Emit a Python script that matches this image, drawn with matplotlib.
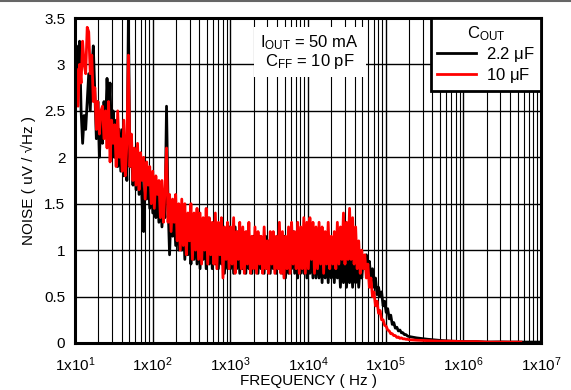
import numpy as np
import matplotlib
matplotlib.use("Agg")
import matplotlib.pyplot as plt
from matplotlib.lines import Line2D

plt.rcParams['font.family'] = ['Liberation Sans', 'DejaVu Sans']
plt.rcParams['mathtext.fontset'] = 'custom'
plt.rcParams['mathtext.rm'] = 'Liberation Sans'
plt.rcParams['mathtext.it'] = 'Liberation Sans'
plt.rcParams['mathtext.default'] = 'regular'

# --- data ---
# dense part of the sweep, 10 Hz .. 200 kHz, log spaced (220 pts)
freq_dense = np.geomspace(10, 2e5, 220)

noise_10uF = [
    2.6, 2.95, 2.55, 3.0, 2.8, 3.25, 3.0, 2.9, 3.4, 3.35,
    2.9, 3.1, 2.6, 2.75, 2.3, 2.6, 2.25, 2.5, 2.55, 2.2,
    2.5, 2.1, 2.6, 1.95, 2.4, 2.15, 2.35, 1.9, 2.5, 2.0,
    2.2, 1.85, 2.4, 1.8, 2.15, 3.1, 1.9, 2.25, 1.75, 2.1,
    1.7, 2.15, 1.65, 2.05, 1.75, 2.0, 1.55, 1.95, 1.7, 1.9,
    1.5, 1.85, 1.45, 1.8, 1.6, 1.75, 1.35, 1.75, 1.3, 1.65,
    2.1, 1.3, 1.6, 1.2, 1.55, 1.3, 1.6, 1.1, 1.5, 1.0,
    1.55, 1.05, 1.5, 0.95, 1.4, 1.1, 1.5, 0.9, 1.4, 1.0,
    1.45, 0.9, 1.4, 0.85, 1.35, 1.0, 1.45, 0.85, 1.35, 0.95,
    1.3, 0.85, 1.4, 0.8, 1.3, 0.95, 1.35, 0.7, 1.25, 0.9,
    1.3, 0.8, 1.25, 0.85, 1.35, 0.75, 1.2, 0.9, 1.3, 0.8,
    1.25, 0.75, 1.2, 0.85, 1.3, 0.75, 1.15, 0.8, 1.25, 0.75,
    1.2, 0.85, 1.15, 0.75, 1.25, 0.8, 1.1, 0.75, 1.2, 0.85,
    1.2, 0.75, 1.15, 0.8, 1.3, 0.75, 1.2, 0.7, 1.15, 0.8,
    1.25, 0.75, 1.3, 0.85, 1.2, 0.8, 1.3, 0.75, 1.25, 0.8,
    1.35, 0.75, 1.3, 0.8, 1.35, 0.9, 1.3, 0.75, 1.25, 0.8,
    1.3, 0.85, 1.25, 0.75, 1.2, 0.85, 1.3, 0.8, 1.15, 0.85,
    1.2, 0.8, 1.3, 0.85, 1.25, 0.9, 1.4, 0.85, 1.3, 0.9,
    1.45, 0.9, 1.35, 0.85, 1.25, 0.8, 1.1, 0.75, 1.0, 0.8,
    0.95, 0.7, 0.85, 0.6, 0.7, 0.5, 0.55, 0.4, 0.45, 0.32,
    0.35, 0.25, 0.25, 0.19, 0.18, 0.14, 0.13, 0.1, 0.1, 0.08,
    0.08, 0.06, 0.065, 0.05, 0.055, 0.045, 0.045, 0.04, 0.04, 0.035,
]

noise_2u2F = [
    3.0, 3.2, 2.9, 3.25, 2.5, 2.15, 2.45, 2.3, 2.6, 2.9,
    2.5, 2.95, 3.2, 2.7, 2.2, 2.6, 2.0, 2.45, 2.15, 2.6,
    2.3, 2.85, 2.4, 2.8, 2.1, 2.5, 2.0, 2.4, 1.9, 2.3,
    1.85, 2.3, 1.8, 2.2, 1.75, 3.5, 1.9, 2.1, 1.7, 2.0,
    1.65, 2.05, 1.6, 2.0, 1.5, 1.2, 1.9, 1.55, 1.85, 1.45,
    1.8, 1.4, 1.75, 1.35, 1.65, 1.3, 1.6, 1.25, 1.55, 1.35,
    2.55, 1.5, 0.95, 1.45, 1.15, 1.4, 1.05, 1.35, 1.0, 1.4,
    1.0, 1.35, 0.9, 1.3, 0.95, 1.4, 0.85, 1.3, 0.9, 1.35,
    0.85, 1.4, 0.8, 1.3, 0.9, 1.3, 0.8, 1.35, 0.85, 1.25,
    0.8, 1.3, 0.85, 1.25, 0.8, 1.2, 0.85, 1.25, 0.75, 1.2,
    0.8, 1.25, 0.8, 1.2, 0.75, 1.25, 0.8, 1.2, 0.75, 1.15,
    0.8, 1.15, 0.75, 1.2, 0.8, 1.1, 0.75, 1.15, 0.8, 1.1,
    0.75, 1.15, 0.8, 1.1, 0.75, 1.15, 0.8, 1.1, 0.75, 1.1,
    0.8, 1.1, 0.75, 1.15, 0.8, 1.1, 0.75, 1.15, 0.7, 1.1,
    0.75, 1.15, 0.8, 1.2, 0.75, 1.15, 0.7, 1.2, 0.75, 1.15,
    0.75, 1.2, 0.7, 1.15, 0.75, 1.1, 0.7, 1.15, 0.7, 1.1,
    0.7, 1.05, 0.65, 1.1, 0.7, 1.0, 0.65, 1.05, 0.7, 1.0,
    0.65, 1.0, 0.7, 0.95, 0.6, 1.0, 0.65, 0.95, 0.6, 0.9,
    0.65, 0.95, 0.6, 0.9, 0.65, 0.9, 0.6, 0.85, 0.7, 0.9,
    0.8, 0.95, 0.75, 0.88, 0.68, 0.8, 0.6, 0.7, 0.52, 0.6,
    0.5, 0.55, 0.4, 0.45, 0.33, 0.37, 0.26, 0.3, 0.2, 0.22,
    0.16, 0.17, 0.13, 0.14, 0.11, 0.11, 0.09, 0.09, 0.075, 0.07,
]

# sparse tails above 200 kHz
freq_tail_10uF = [2.5e5, 3.5e5, 5e5, 7e5, 1e6, 1.5e6, 2e6, 3e6, 4e6, 5.5e6]
tail_10uF = [0.03, 0.025, 0.02, 0.02, 0.015, 0.015, 0.01, 0.01, 0.01, 0.01]
freq_tail_2u2F = [2.5e5, 3.5e5, 5e5, 7e5, 1e6, 1.5e6, 2e6, 3e6, 4e6, 6e6, 1e7]
tail_2u2F = [0.055, 0.04, 0.028, 0.02, 0.015, 0.015, 0.01, 0.012, 0.01, 0.01, 0.01]

xtick_vals = [1e1, 1e2, 1e3, 1e4, 1e5, 1e6, 1e7]
xtick_labels = [r'1x10$^{%d}$' % k for k in range(1, 8)]
ytick_vals = [0, 0.5, 1, 1.5, 2, 2.5, 3, 3.5]
ytick_labels = ['0', '0.5', '1', '1.5', '2', '2.5', '3', '3.5']

fig = plt.figure(figsize=(5.71, 3.90), dpi=100)
ax = fig.add_axes([75/571, 1 - 343/390, 466/571, 325/390])

f_black = np.concatenate([freq_dense, freq_tail_2u2F])
v_black = np.concatenate([noise_2u2F, tail_2u2F])
f_red = np.concatenate([freq_dense, freq_tail_10uF])
v_red = np.concatenate([noise_10uF, tail_10uF])

ax.plot(f_black, v_black, color='black', lw=2.0, label=r'2.2 $\mu$F', zorder=3)
ax.plot(f_red, v_red, color='#ff0000', lw=2.0, label=r'10 $\mu$F', zorder=4)

ax.set_xscale('log')
ax.set_xlim(10, 1e7)
ax.set_ylim(0, 3.5)
ax.set_xticks(xtick_vals)
ax.set_xticklabels(xtick_labels, fontsize=11)
ax.set_yticks(ytick_vals)
ax.set_yticklabels(ytick_labels, fontsize=11)
ax.tick_params(which='both', length=0)
ax.tick_params(axis='x', pad=9)
ax.tick_params(axis='y', pad=7)
ax.xaxis.set_minor_formatter(matplotlib.ticker.NullFormatter())

ax.grid(True, which='major', axis='both', color='black', lw=1.0, zorder=1)
ax.grid(True, which='minor', axis='x', color='black', lw=0.8, zorder=1)
ax.set_axisbelow(True)
for s in ax.spines.values():
    s.set_linewidth(2.2)
    s.set_zorder(6)

ax.set_xlabel('FREQUENCY ( Hz )', fontsize=11, labelpad=0)
ax.set_ylabel('NOISE ( uV / \u221aHz )', fontsize=11, labelpad=6)

ax.text(0.504, 0.895, 'I$_{OUT}$ = 50 mA\nC$_{FF}$ = 10 pF', transform=ax.transAxes,
        ha='center', va='center', fontsize=12, linespacing=0.95, zorder=5,
        bbox=dict(boxstyle='square,pad=0.4', fc='white', ec='none'))

leg = ax.legend(loc='upper right', title='C$_{OUT}$', fontsize=12, title_fontsize=12,
                borderaxespad=0, fancybox=False, framealpha=1, handlelength=2.3,
                handletextpad=0.6, labelspacing=0.1, borderpad=0.4)
leg.get_frame().set_edgecolor('black')
leg.get_frame().set_linewidth(2)
leg.set_zorder(7)
for h in leg.legend_handles:
    h.set_linewidth(2)

fig.add_artist(Line2D([0, 1], [0.998, 0.998], color='#666666', lw=1.5, transform=fig.transFigure))

fig.savefig('out.png', dpi=100)
